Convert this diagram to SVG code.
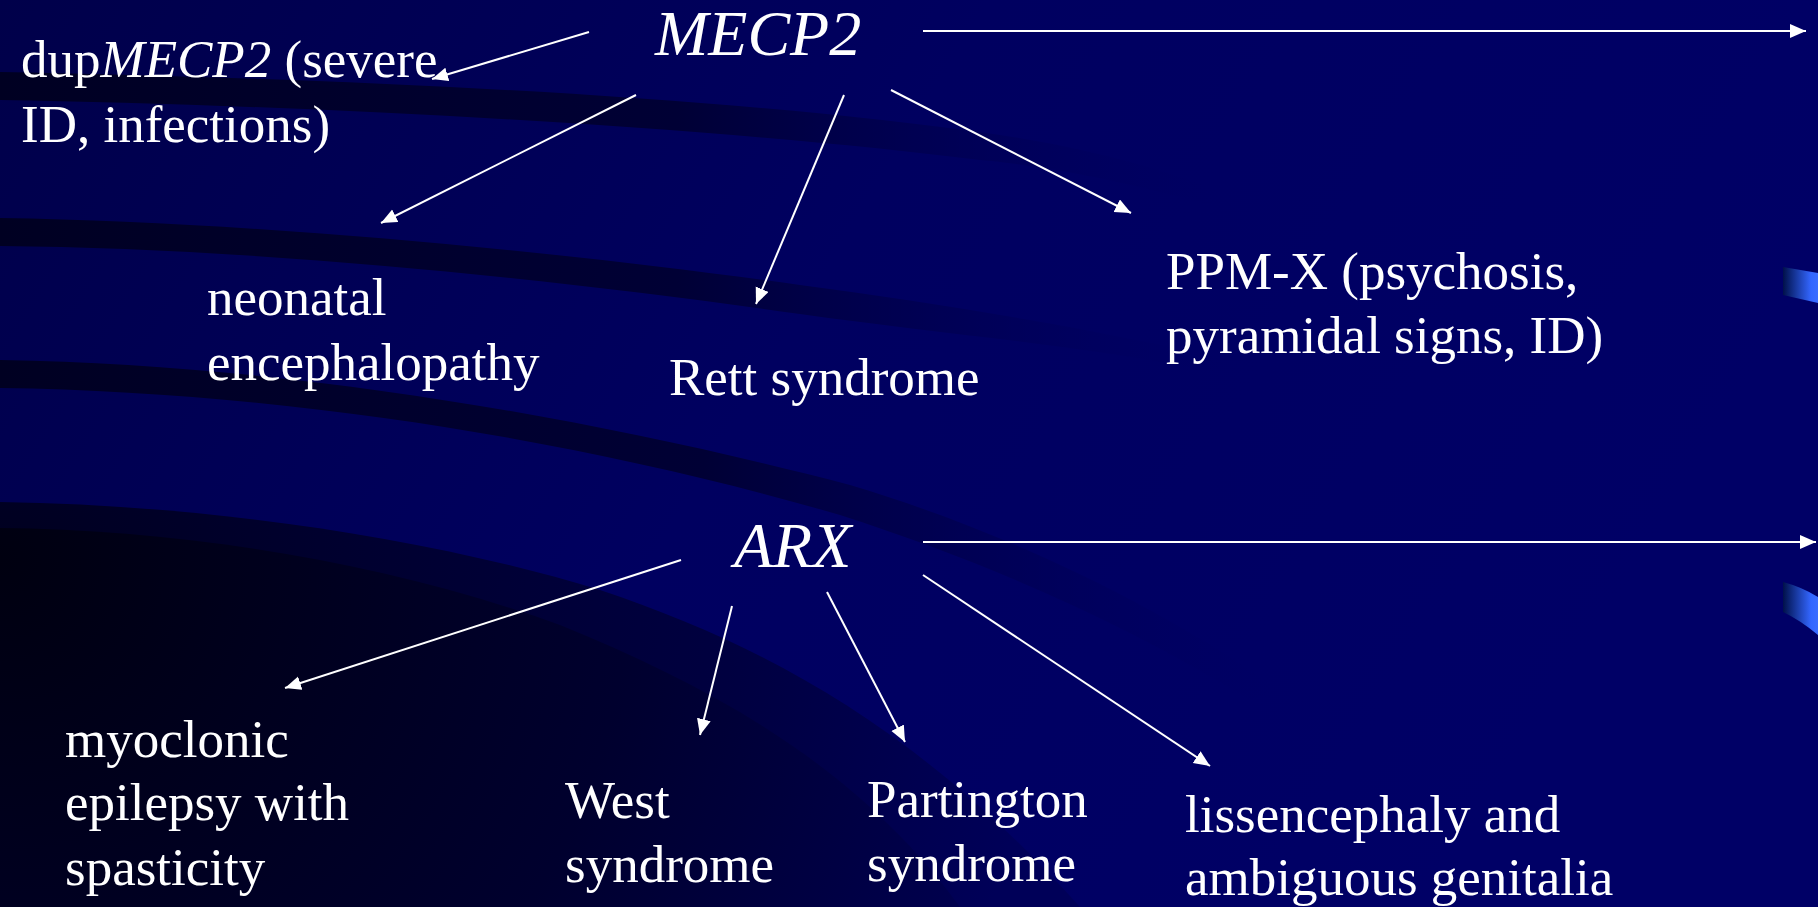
<svg xmlns="http://www.w3.org/2000/svg" width="1818" height="907" viewBox="0 0 1818 907">
<defs>
<style>
.t{font-family:"Liberation Serif","Times New Roman",serif;font-size:53px;fill:#fff}
.h{font-family:"Liberation Serif","Times New Roman",serif;font-size:64px;font-style:italic;fill:#fff}
.c{stroke:#fff;stroke-width:2;fill:none;marker-end:url(#ah)}
</style>
<marker id="ah" markerUnits="userSpaceOnUse" markerWidth="18" markerHeight="16" refX="16" refY="7" orient="auto">
<path d="M0,0 L16,7 L0,14 Z" fill="#fff"/>
</marker>
<linearGradient id="bg" x1="0" y1="0" x2="1" y2="0.3">
<stop offset="0" stop-color="#00004a"/>
<stop offset="0.5" stop-color="#000060"/>
<stop offset="1" stop-color="#000066"/>
</linearGradient>
<linearGradient id="band" x1="0" y1="0" x2="1" y2="0">
<stop offset="0" stop-color="#000022"/>
<stop offset="0.55" stop-color="#000035"/>
<stop offset="1" stop-color="#000060" stop-opacity="0"/>
</linearGradient>
<radialGradient id="dark" cx="0" cy="560" r="1050" gradientUnits="userSpaceOnUse">
<stop offset="0" stop-color="#000010"/>
<stop offset="0.6" stop-color="#00002e"/>
<stop offset="1" stop-color="#000050"/>
</radialGradient>
<radialGradient id="dark2" cx="0" cy="560" r="1050" gradientUnits="userSpaceOnUse">
<stop offset="0" stop-color="#000020"/>
<stop offset="0.7" stop-color="#000040"/>
<stop offset="1" stop-color="#000058"/>
</radialGradient>
<linearGradient id="tab" x1="0" y1="0" x2="1" y2="0">
<stop offset="0" stop-color="#00104a"/>
<stop offset="0.8" stop-color="#3366ff"/>
<stop offset="1" stop-color="#3a6cff"/>
</linearGradient>
</defs>
<g id="background">
<rect width="1818" height="907" fill="url(#bg)"/>
<path d="M0,72 C300,78 700,92 1000,135 C1100,150 1180,175 1230,195 L1210,205 C1120,180 1040,165 980,160 C700,125 300,105 0,100 Z" fill="url(#band)"/>
<path d="M0,218 C250,222 550,250 800,285 C950,305 1100,330 1230,360 L1215,372 C1080,345 950,335 800,314 C550,278 250,248 0,246 Z" fill="url(#band)"/>
<path d="M0,360 C300,365 600,420 850,485 C1000,530 1150,600 1280,690 L1250,700 C1120,620 980,560 840,515 C600,445 300,392 0,388 Z" fill="url(#band)"/>
<path d="M0,502 C200,505 420,535 600,590 C780,650 930,740 1080,907 L0,907 Z" fill="url(#dark2)"/>
<path d="M0,528 C180,530 380,560 560,625 C720,690 860,770 960,907 L0,907 Z" fill="url(#dark)"/>
<path d="M1783,267 L1818,273 L1818,303 L1783,295 Z" fill="url(#tab)"/>
<path d="M1783,582 Q1802,587 1818,597 L1818,635 Q1800,620 1783,612 Z" fill="url(#tab)"/>
</g>
<g id="connectors">
<line class="c" x1="589" y1="32" x2="432" y2="79"/>
<line class="c" x1="636" y1="95" x2="381" y2="223"/>
<line class="c" x1="844" y1="95" x2="756" y2="304"/>
<line class="c" x1="891" y1="90" x2="1131" y2="213"/>
<line class="c" x1="923" y1="31" x2="1806" y2="31"/>
<line class="c" x1="681" y1="560" x2="285" y2="688"/>
<line class="c" x1="732" y1="606" x2="700" y2="735"/>
<line class="c" x1="827" y1="592" x2="905" y2="742"/>
<line class="c" x1="923" y1="575" x2="1210" y2="766"/>
<line class="c" x1="923" y1="542" x2="1816" y2="542"/>
</g>
<g id="node-mecp2"><text class="h" x="655" y="55">MECP2</text></g>
<g id="node-dup"><text class="t" x="21" y="77">dup<tspan font-style="italic">MECP2</tspan> (severe</text><text class="t" x="21" y="142">ID, infections)</text></g>
<g id="node-neonatal"><text class="t" x="207" y="315">neonatal</text><text class="t" x="207" y="380">encephalopathy</text></g>
<g id="node-rett"><text class="t" x="669" y="395">Rett syndrome</text></g>
<g id="node-ppmx"><text class="t" x="1166" y="289">PPM-X (psychosis,</text><text class="t" x="1166" y="353">pyramidal signs, ID)</text></g>
<g id="node-arx"><text class="h" x="734" y="567">ARX</text></g>
<g id="node-myoclonic"><text class="t" x="65" y="757">myoclonic</text><text class="t" x="65" y="820">epilepsy with</text><text class="t" x="65" y="885">spasticity</text></g>
<g id="node-west"><text class="t" x="565" y="818">West</text><text class="t" x="565" y="882">syndrome</text></g>
<g id="node-partington"><text class="t" x="867" y="817">Partington</text><text class="t" x="867" y="881">syndrome</text></g>
<g id="node-lissencephaly"><text class="t" x="1185" y="832">lissencephaly and</text><text class="t" x="1185" y="895">ambiguous genitalia</text></g>
</svg>
